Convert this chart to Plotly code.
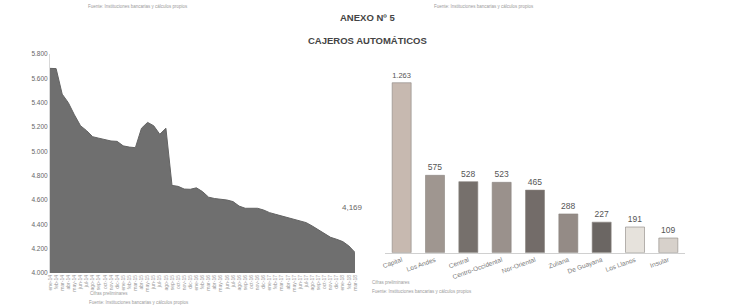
import plotly.graph_objects as go

# ---------------- data ----------------
months = ["ene", "feb", "mar", "abr", "may", "jun", "jul", "ago", "sep", "oct", "nov", "dic"]
period_labels = [f"{months[i % 12]}-{14 + i // 12}" for i in range(51)]
atm_totals = [5682, 5680, 5470, 5400, 5300, 5210, 5170, 5120, 5108, 5095,
              5085, 5082, 5045, 5035, 5030, 5190, 5238, 5210, 5140, 5190,
              4720, 4712, 4690, 4688, 4700, 4669, 4623, 4612, 4609, 4600,
              4587, 4550, 4532, 4535, 4532, 4518, 4496, 4482, 4468, 4455,
              4441, 4427, 4414, 4386, 4353, 4320, 4293, 4277, 4258, 4222,
              4169]
y_ticks = [4000, 4200, 4400, 4600, 4800, 5000, 5200, 5400, 5600, 5800]

regions = ["Capital", "Los Andes", "Central", "Centro-Occidental", "Nor-Oriental",
           "Zuliana", "De Guayana", "Los Llanos", "Insular"]
region_atms = [1263, 575, 528, 523, 465, 288, 227, 191, 109]
bar_colors = ["#c7b9b0", "#9f9690", "#76706c", "#9a918c", "#736c69",
              "#948b86", "#6b6663", "#e6e2dc", "#d7d1cb"]

W, H = 733, 308
def px_x(a, b):
    return [a / W, b / W]
def px_y(top, bottom):
    return [1 - bottom / H, 1 - top / H]

fig = go.Figure()

fig.add_trace(go.Scatter(
    x=list(range(len(atm_totals))), y=atm_totals, mode="lines",
    fill="tozeroy", fillcolor="#6f6f6f", line=dict(color="#636363", width=1),
    xaxis="x", yaxis="y", showlegend=False, hoverinfo="y"))

fig.add_trace(go.Bar(
    x=regions, y=region_atms, marker=dict(color=bar_colors, line=dict(color="#8a8480", width=0.6)),
    width=0.57, texttemplate="%{y:,d}", textposition="outside",
    textfont=dict(family="Liberation Sans", size=8.5, color="#555555"),
    cliponaxis=False, xaxis="x2", yaxis="y2", showlegend=False))

fig.update_layout(
    width=W, height=H, margin=dict(l=0, r=0, t=0, b=0),
    paper_bgcolor="white", plot_bgcolor="rgba(0,0,0,0)",
    separators=",.",
    font=dict(family="Liberation Sans", color="#666666"),
    xaxis=dict(domain=px_x(50, 355), range=[0, len(atm_totals) - 1], automargin=False,
               tickvals=list(range(len(atm_totals))), ticktext=period_labels,
               tickangle=-90, tickfont=dict(size=5, color="#9a9a9a"),
               showgrid=False, zeroline=False, showline=False, ticks=""),
    yaxis=dict(domain=px_y(54, 273), range=[4000, 5800], tickvals=y_ticks, automargin=False,
               tickformat=",d", tickfont=dict(size=6.5, color="#666666"),
               showgrid=False, zeroline=False, showline=True, linecolor="#d8d8d8",
               linewidth=1, ticks=""),
    xaxis2=dict(domain=px_x(385, 685), anchor="y2", tickangle=-20, automargin=False,
                tickfont=dict(size=6.5, color="#777777"), showgrid=False,
                zeroline=False, showline=True, linecolor="#d0d0d0", ticks=""),
    yaxis2=dict(domain=px_y(64.3, 252.7), anchor="x2", range=[0, 1400], automargin=False,
                visible=False, showgrid=False),
)

ann = [
    dict(text="<b>ANEXO Nº 5</b>", x=367 / W, y=1 - 17 / H, size=9.5, color="#444444"),
    dict(text="<b>CAJEROS AUTOMÁTICOS</b>", x=367 / W, y=1 - 40 / H, size=9.5, color="#444444"),
    dict(text="4,169", x=352 / W, y=1 - 207 / H, size=8, color="#666666"),
]
for a in ann:
    fig.add_annotation(text=a["text"], x=a["x"], y=a["y"], xref="paper", yref="paper",
                       showarrow=False, xanchor="center", yanchor="middle",
                       font=dict(family="Liberation Sans", size=a["size"], color=a["color"]))

small = [
    ("Fuente: Instituciones bancarias y cálculos propios", 86, 7),
    ("Fuente: Instituciones bancarias y cálculos propios", 432, 7),
    ("Cifras preliminares", 88, 293),
    ("Fuente: Instituciones bancarias y cálculos propios", 87, 302),
    ("Cifras preliminares", 370, 282),
    ("Fuente: Instituciones bancarias y cálculos propios", 370, 291),
]
for t, x, y in small:
    fig.add_annotation(text=t, x=x / W, y=1 - y / H, xref="paper", yref="paper",
                       showarrow=False, xanchor="left", yanchor="middle",
                       font=dict(family="Liberation Sans", size=4.5, color="#9a9a9a"))

fig.write_html("out.html", config={"displayModeBar": False},
               post_script="document.body.style.margin='0';document.body.style.overflow='hidden';")
